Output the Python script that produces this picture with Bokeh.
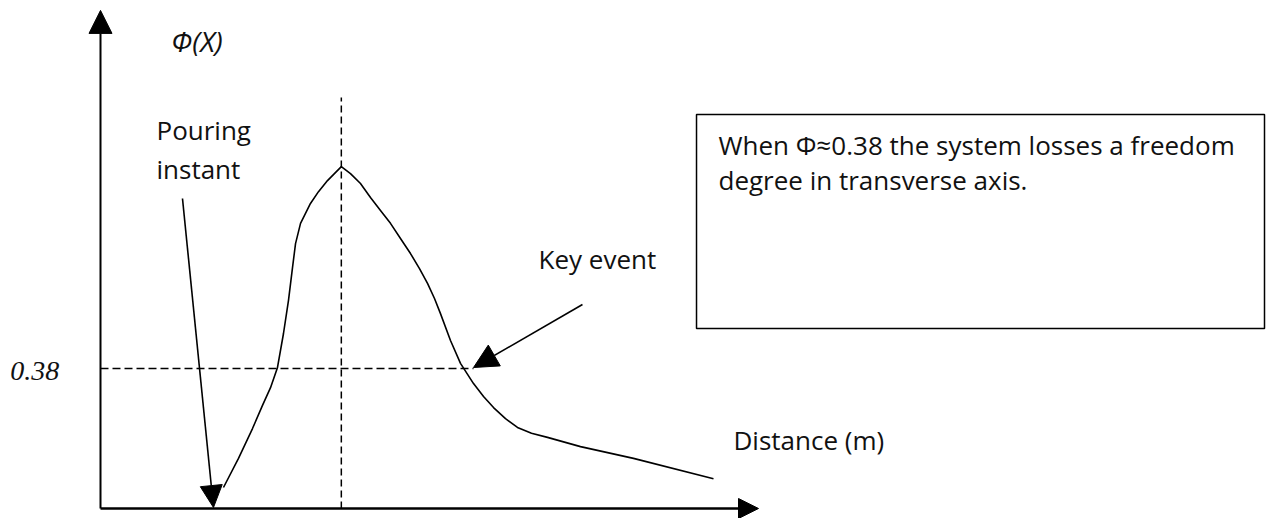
from bokeh.plotting import figure
from bokeh.models import Arrow, NormalHead, Label, Range1d
from bokeh.embed import file_html
from bokeh.resources import INLINE

# ---- data ----
curve_x = [1.869, 2.097, 2.310, 2.462, 2.584, 2.690, 2.781, 2.857, 2.918, 2.964,
           3.040, 3.191, 3.313, 3.450, 3.660, 3.799, 3.951, 4.103, 4.255, 4.407,
           4.559, 4.711, 4.848, 4.970, 5.076, 5.167, 5.319, 5.471, 5.669, 5.821,
           5.973, 6.155, 6.337, 6.550, 6.793, 7.295, 8.100, 9.316]
curve_y = [0.057, 0.136, 0.217, 0.280, 0.328, 0.383, 0.475, 0.565, 0.654, 0.719,
           0.774, 0.828, 0.860, 0.890, 0.928, 0.909, 0.882, 0.844, 0.809, 0.774,
           0.733, 0.692, 0.651, 0.611, 0.570, 0.529, 0.456, 0.394, 0.339, 0.304,
           0.274, 0.244, 0.220, 0.204, 0.193, 0.168, 0.136, 0.081]
threshold = 0.38
peak_x = 3.660
key_event_x = 5.669
pouring_x = 1.717
x_axis_end = 10.0
y_axis_end = 1.352
y_label = "Φ(X)"
x_label = "Distance (m)"
threshold_label = "0.38"
note_lines = ["When Φ≈0.38 the system losses a freedom",
              "degree in transverse axis."]

PX_X = 65.8          # pixels per x unit
PX_Y = 140 / 0.38    # pixels per y unit
W, H = 1266, 518

p = figure(width=W, height=H, output_backend="svg", toolbar_location=None,
           x_axis_type=None, y_axis_type=None, min_border=0,
           x_range=Range1d(-100 / PX_X, (W - 100) / PX_X),
           y_range=Range1d(-(H - 508) / PX_Y, 508 / PX_Y))
p.grid.visible = False
p.outline_line_color = None
p.background_fill_color = "white"

FONT = "Open Sans"
FS = "26px"

# dashed guides
p.line([0, key_event_x], [threshold, threshold], line_color="black",
       line_width=1.5, line_dash="8 4")
p.line([peak_x, peak_x], [0, 1.1156], line_color="black",
       line_width=1.5, line_dash="7 4")

# curve
p.line(curve_x, curve_y, line_color="black", line_width=1.6, line_join="round")

# axes as arrows
p.add_layout(Arrow(end=NormalHead(size=23, fill_color="black", line_color="black"),
                   x_start=0, y_start=0, x_end=0, y_end=y_axis_end,
                   line_width=2, line_color="black"))
p.add_layout(Arrow(end=NormalHead(size=20, fill_color="black", line_color="black"),
                   x_start=0, y_start=0, x_end=x_axis_end, y_end=0,
                   line_width=2.5, line_color="black"))

# annotation arrows
p.add_layout(Arrow(end=NormalHead(size=22, fill_color="black", line_color="black"),
                   x_start=1.246, y_start=0.8414, x_end=pouring_x, y_end=0.0027,
                   line_width=1.6, line_color="black"))
p.add_layout(Arrow(end=NormalHead(size=24, fill_color="black", line_color="black"),
                   x_start=7.325, y_start=0.5537, x_end=key_event_x, y_end=0.3827,
                   line_width=1.6, line_color="black"))

# note box
p.quad(left=[9.058], right=[17.69], top=[1.0694], bottom=[0.4886],
       fill_color=None, line_color="black", line_width=1.5)

def lab(x, y, t, font=FONT, size=FS, style="normal"):
    p.add_layout(Label(x=x, y=y, text=t, text_font=font, text_font_size=size,
                       text_font_style=style, text_color="#111111",
                       text_baseline="alphabetic", text_align="left"))

lab(1.075, 1.268, y_label, size="28px", style="italic")
lab(0.851, 1.028, "Pouring")
lab(0.851, 0.922, "instant")
lab(6.657, 0.678, "Key event")
lab(9.620, 0.187, x_label)
lab(-1.37, 0.372, threshold_label, font="Liberation Serif", size="28px", style="italic")
lab(9.392, 0.988, note_lines[0])
lab(9.392, 0.893, note_lines[1])

open("out.html", "w").write(file_html(p, INLINE))
